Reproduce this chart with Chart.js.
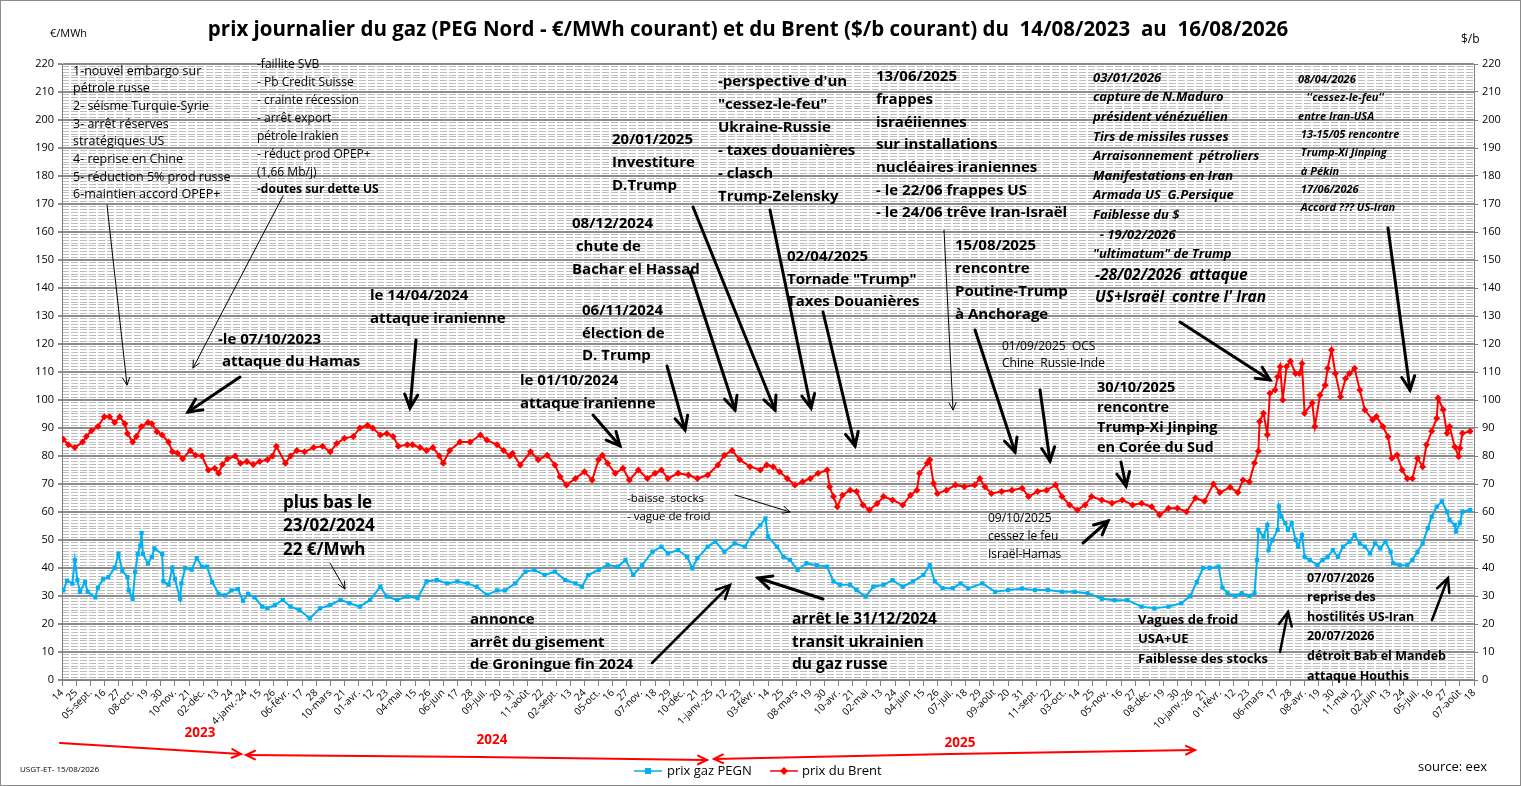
<!DOCTYPE html>
<html>
<head>
<meta charset="utf-8">
<script src="https://cdn.jsdelivr.net/npm/chart.js@4.4.1/dist/chart.umd.min.js"></script>
<style>
  html, body { margin: 0; padding: 0; background: #fff; }
  canvas { display: block; }
</style>
</head>
<body>
<canvas id="chart" width="1521" height="786"></canvas>
<script>
// x = jours depuis le 14/08/2023, libellés tous les 11 jours
const tickLabels = [
  "14","25","05-sept.","16","27","08-oct.","19","30","10-nov.","21",
  "02-déc.","13","24","4-janv.-24","15","26","06-févr.","17","28","10-mars",
  "21","01-avr.","12","23","04-mai","15","26","06-juin","17","28",
  "09-juil.","20","31","11-août","22","02-sept.","13","24","05-oct.","16",
  "27","07-nov.","18","29","10-déc.","21","1-janv.-25","12","23","03-févr.",
  "14","25","08-mars","19","30","10-avr.","21","02-mai","13","24",
  "04-juin","15","26","07-juil.","18","29","09-août","20","31","11-sept.",
  "22","03-oct.","14","25","05-nov.","16","27","08-déc.","19","30",
  "10-janv.-26","21","01-févr.","12","23","06-mars","17","28","08-avr.","19",
  "30","11-mai","22","02-juin","13","24","05-juil.","16","27","07-août",
  "18"
];

// prix du Brent ($/b)
const brentDays = [
  1,5,10,16,19,23,28,33,37,41,
  45,49,51,55,58,62,67,70,74,78,
  83,86,90,94,100,104,109,114,119,122,
  125,129,135,139,144,149,154,160,164,167,
  174,178,183,189,196,203,209,214,220,227,
  232,238,242,248,253,258,262,269,273,279,
  284,289,294,297,302,310,318,326,331,339,
  344,349,351,357,365,371,378,384,388,393,
  400,407,413,418,421,425,431,437,442,449,
  456,462,467,472,480,488,495,503,511,516,
  522,528,536,544,549,554,559,565,571,577,
  583,589,596,598,601,604,608,614,619,624,
  629,635,640,647,655,661,666,668,674,676,
  679,682,689,696,703,711,715,719,724,732,
  740,748,753,760,767,774,779,785,791,797,
  802,810,818,826,834,841,849,855,862,869,
  876,883,890,897,902,910,916,920,925,929,
  932,933,936,939,941,945,947,949,951,954,
  957,961,964,966,968,974,976,980,984,986,
  989,992,996,1000,1003,1007,1011,1015,1021,1024,
  1029,1033,1036,1040,1044,1048,1052,1056,1060,1063,
  1067,1071,1072,1076,1079,1081,1085,1088,1089,1091,1097
];
const brentValues = [
  86,84,83,85,87,89,90.5,94,94,92,
  94,91.5,88,85,87,90.5,92,91.5,88.7,87.5,
  85,81.5,81,79,82,80.3,80,75,75.6,73.8,
  77,79,80,77.4,78,77,78,78.7,80,83.5,
  77.4,80,82,81.5,83,83.5,81.5,84.5,86.3,87,
  90,91,90,87.5,88,87,83.5,84,84,83,
  82,83,80,77.4,82,85,85,87.5,85.7,84,
  82,80,81,76.8,81.5,78.7,80.3,76.8,72.6,69.6,
  72,74.4,71.4,78.7,80.3,77.4,73.8,75.6,71.4,75,
  72,73.8,75,72,73.8,73.2,72,73.2,76.8,80.3,
  82,78.7,76.2,75,76.8,76.2,74.4,72,69.6,70.8,
  72,73.8,75,69,65.5,61.9,66,67.8,67.3,62.5,
  60.7,63,65.5,64.3,62.5,66,67.8,73.8,77.4,78.7,
  70.2,66.6,67.8,69.6,69,69.6,72,69,66.6,67.3,
  67.8,68.5,65.5,67.3,67.8,69.6,65.5,62.5,60.7,62.5,
  65.5,64.3,63.1,64.3,62.5,63.1,61.9,58.9,61.3,61.3,
  60.1,65,63.8,70,67,68.8,67,71.4,70.8,77.5,
  81.7,92.3,95.3,87.6,102.4,103.6,108.3,111.9,100,112,
  113.8,109.5,109.5,113,95.3,98.9,90.5,101.7,105.3,111.3,
  117.9,109.5,101.2,107.7,109.5,111.3,103.6,96.4,92.9,94.1,
  90.5,86.9,79.2,80.4,75,72,72,79.2,76.2,84,
  88.8,93.5,100.7,96.5,88.1,90.5,83.3,79.8,82.8,88.1,88.8
];

// prix gaz PEGN (€/MWh)
const gasDays = [
  1,4,8,10,12,14,18,20,26,28,
  32,36,41,44,47,51,52,55,57,59,
  61,62,63,67,70,72,78,79,83,86,
  88,92,93,96,101,105,109,113,117,122,
  127,132,137,141,145,150,156,160,166,172,
  178,185,193,201,209,217,224,232,240,248,
  253,261,269,277,284,292,300,308,316,323,
  331,339,345,353,361,368,376,384,392,400,
  405,410,418,425,433,439,445,452,460,467,
  472,480,487,491,495,503,509,516,524,532,
  538,544,548,550,557,562,567,573,580,588,
  596,601,606,614,619,626,632,640,647,655,
  663,671,676,680,686,694,700,706,717,727,
  737,748,758,768,779,789,799,810,820,830,
  841,851,862,872,879,884,889,894,901,904,
  908,914,919,925,929,931,932,936,939,940,
  943,947,948,950,953,955,958,961,963,966,
  968,972,978,982,986,990,994,998,1003,1007,
  1011,1015,1019,1023,1027,1031,1035,1037,1042,1048,
  1052,1056,1060,1064,1067,1071,1075,1079,1081,1085,1086,1089,1091,1097
];
const gasValues = [
  32,35.5,34.4,42.8,35.7,31.5,35,31.5,29.5,33,
  36,36.7,40,45,39,36.8,32,29,38.6,45,
  48,52.5,45,41.6,44,47,45,35.2,34,40,
  36,29,34.5,40,39.4,43.5,40.5,40.5,35,30.8,
  30.2,32,32.5,28.3,30.8,29.5,26.2,25.6,26.8,28.6,
  26.2,25,22,25.6,26.8,28.6,27.4,26.2,28.6,33.3,
  29.8,28.6,29.8,29.2,35.2,35.7,34.5,35.2,34.5,33.3,
  30.4,32,32,34.5,38.7,39.3,37.5,38.7,35.7,34.5,
  33.3,37.5,39.3,41.1,40.5,42.9,37.5,41,45.8,47.6,
  45.2,46.4,44,39.9,43.5,47.6,49.4,45.8,48.8,47.6,
  52.4,55.3,57.7,51.2,47.6,44,42.9,39.3,41.7,41,
  40.5,35.2,34,34,32.1,29.8,33.3,34,35.7,33.3,
  35.2,37.5,41,35.2,32.8,32.8,34.5,32.7,34.5,31.5,
  32.1,32.7,32.1,32.1,31.5,31.5,31,29,28.5,28.5,
  26.2,25.6,26.2,27.4,30,35,40,40,40.5,33,
  31,30,31,30,31,42.9,53.6,51.2,55.4,46.4,
  50,53.6,62,58.3,56,53.6,56,50,47.6,51.8,
  44,42.9,41,42.9,44,46.4,44,47.6,49.4,51.8,
  48.8,47.6,45.2,48.8,47,49.4,45.8,41.7,41,41,
  42.9,45.8,48.8,54.2,58.3,61.9,63.8,60.1,57.1,55.4,53,56,60.1,60.7
];

const GAS_COLOR = '#00b0f0';
const BRENT_COLOR = '#ff0000';
const FONT = "'Open Sans', 'Liberation Sans', sans-serif";

// textes d'annotation : x, y (milieu de la 1re ligne), taille, style, interligne
const notes = [
  { x: 73, y: 71, size: 12.5, style: '', lh: 17.7, lines: ["1-nouvel embargo sur", "pétrole russe", "2- séisme Turquie-Syrie", "3- arrêt réserves", "stratégiques US", "4- reprise en Chine", "5- réduction 5% prod russe", "6-maintien accord OPEP+"] },
  { x: 257, y: 65, size: 12, style: '', lh: 17.9, lines: ["-faillite SVB", "- Pb Credit Suisse", "- crainte récession", "- arrêt export", "pétrole Irakien", "- réduct prod OPEP+", "(1,66 Mb/j)"] },
  { x: 257, y: 190, size: 12, style: 'bold', lh: 18, lines: ["-doutes sur dette US"] },
  { x: 218, y: 340, size: 15, style: 'bold', lh: 22, lines: ["-le 07/10/2023", " attaque du Hamas"] },
  { x: 370, y: 296, size: 15, style: 'bold', lh: 23, lines: ["le 14/04/2024", "attaque iranienne"] },
  { x: 283, y: 503, size: 17, style: 'bold', lh: 23.5, lines: ["plus bas le", "23/02/2024", "22 €/Mwh"] },
  { x: 470, y: 620, size: 15, style: 'bold', lh: 22.5, lines: ["annonce", "arrêt du gisement", "de Groningue fin 2024"] },
  { x: 520, y: 381, size: 15, style: 'bold', lh: 23, lines: ["le 01/10/2024", "attaque iranienne"] },
  { x: 582, y: 311, size: 15, style: 'bold', lh: 22.5, lines: ["06/11/2024", "élection de", "D. Trump"] },
  { x: 572, y: 224, size: 15, style: 'bold', lh: 23, lines: ["08/12/2024", " chute de", "Bachar el Hassad"] },
  { x: 612, y: 140, size: 15, style: 'bold', lh: 23, lines: ["20/01/2025", "Investiture", "D.Trump"] },
  { x: 718, y: 82, size: 15, style: 'bold', lh: 23, lines: ["-perspective d'un", "\"cessez-le-feu\"", "Ukraine-Russie", "- taxes douanières", "- clasch", "Trump-Zelensky"] },
  { x: 876, y: 77, size: 15, style: 'bold', lh: 22.7, lines: ["13/06/2025", "frappes", "israéiiennes", "sur installations", "nucléaires iraniennes", "- le 22/06 frappes US", "- le 24/06 trêve Iran-Israël"] },
  { x: 787, y: 257, size: 15, style: 'bold', lh: 22.5, lines: ["02/04/2025", "Tornade \"Trump\"", "Taxes Douanières"] },
  { x: 955, y: 246, size: 15, style: 'bold', lh: 23, lines: ["15/08/2025", "rencontre", "Poutine-Trump", "à Anchorage"] },
  { x: 1002, y: 347, size: 12, style: '', lh: 17, lines: ["01/09/2025  OCS", "Chine  Russie-Inde"] },
  { x: 1097, y: 388, size: 14.5, style: 'bold', lh: 20, lines: ["30/10/2025", "rencontre", "Trump-Xi Jinping", "en Corée du Sud"] },
  { x: 988, y: 519, size: 12, style: '', lh: 18, lines: ["09/10/2025", "cessez le feu", "Israël-Hamas"] },
  { x: 1093, y: 78, size: 13, style: 'italic bold', lh: 19.6, lines: ["03/01/2026", "capture de N.Maduro", "président vénézuélien", "Tirs de missiles russes", "Arraisonnement  pétroliers", "Manifestations en Iran", "Armada US  G.Persique", "Faiblesse du $", "  - 19/02/2026", "\"ultimatum\" de Trump"] },
  { x: 1095, y: 276, size: 15.5, style: 'italic bold', lh: 22, lines: ["-28/02/2026  attaque", "US+Israël  contre l' Iran"] },
  { x: 1298, y: 80, size: 11, style: 'italic bold', lh: 18.3, lines: ["08/04/2026", "   ''cessez-le-feu''", "entre Iran-USA", " 13-15/05 rencontre", " Trump-Xi Jinping", " à Pékin", " 17/06/2026", " Accord ??? US-Iran"] },
  { x: 627, y: 499, size: 11.5, style: '', lh: 18, lines: ["-baisse  stocks", "- vague de froid"] },
  { x: 792, y: 620, size: 15.5, style: 'bold', lh: 22.5, lines: ["arrêt le 31/12/2024", "transit ukrainien", "du gaz russe"] },
  { x: 1138, y: 620, size: 13, style: 'bold', lh: 19.5, lines: ["Vagues de froid", "USA+UE", "Faiblesse des stocks"] },
  { x: 1307, y: 578, size: 12.5, style: 'bold', lh: 19.6, lines: ["07/07/2026", "reprise des", "hostilités US-Iran", "20/07/2026", "détroit Bab el Mandeb", "attaque Houthis"] }
];

// flèches : x1, y1, x2, y2 (pointe), épaisseur
const arrows = [
  [107, 205, 127, 385, 1], [283, 196, 193, 368, 1], [330, 563, 345, 589, 1],
  [735, 495, 790, 512, 1], [944, 230, 953, 410, 1],
  [240, 377, 188, 412, 3], [416, 340, 410, 408, 3], [593, 415, 620, 446, 3],
  [667, 366, 685, 430, 3], [690, 272, 735, 410, 3], [693, 207, 775, 410, 3],
  [770, 210, 811, 408, 3], [823, 312, 855, 446, 3], [975, 330, 1015, 452, 3],
  [1040, 390, 1050, 461, 3], [1121, 462, 1126, 486, 3], [1083, 543, 1108, 521, 3],
  [1180, 322, 1270, 380, 3], [1388, 228, 1410, 390, 3], [652, 663, 730, 585, 2.5],
  [823, 599, 758, 578, 3], [1280, 652, 1288, 612, 2.5], [1432, 620, 1448, 578, 2.5]
];

function drawArrow(ctx, x1, y1, x2, y2, w, color, head) {
  const a = Math.atan2(y2 - y1, x2 - x1);
  ctx.save();
  ctx.strokeStyle = color;
  ctx.lineWidth = w;
  ctx.lineCap = 'round';
  ctx.beginPath();
  ctx.moveTo(x1, y1);
  ctx.lineTo(x2, y2);
  ctx.stroke();
  ctx.beginPath();
  ctx.moveTo(x2 - head * Math.cos(a - 0.45), y2 - head * Math.sin(a - 0.45));
  ctx.lineTo(x2, y2);
  ctx.lineTo(x2 - head * Math.cos(a + 0.45), y2 - head * Math.sin(a + 0.45));
  ctx.stroke();
  ctx.restore();
}

const decorPlugin = {
  id: 'decor',
  beforeDraw(chart) {
    const ctx = chart.ctx;
    ctx.save();
    ctx.fillStyle = '#fff';
    ctx.fillRect(0, 0, chart.width, chart.height);
    ctx.restore();
  },
  afterDraw(chart) {
    const ctx = chart.ctx;
    ctx.save();
    ctx.fillStyle = '#000';
    ctx.textBaseline = 'middle';

    // titre
    ctx.font = 'bold 20.5px ' + FONT;
    ctx.textAlign = 'center';
    ctx.fillText('prix journalier du gaz (PEG Nord - €/MWh courant) et du Brent ($/b courant) du  14/08/2023  au  16/08/2026', 748, 30);
    ctx.textAlign = 'left';
    ctx.font = '11px ' + FONT;
    ctx.fillText('€/MWh', 50, 34);
    ctx.font = '12px ' + FONT;
    ctx.fillText('$/b', 1461, 40);

    // annotations
    notes.forEach(n => {
      ctx.font = (n.style ? n.style + ' ' : '') + n.size + 'px ' + FONT;
      n.lines.forEach((t, i) => ctx.fillText(t, n.x, n.y + i * n.lh));
    });
    arrows.forEach(a => drawArrow(ctx, a[0], a[1], a[2], a[3], a[4], '#000', a[4] > 2 ? 15 : 8));

    // années
    ctx.fillStyle = '#ff0000';
    ctx.font = 'bold 13.5px ' + FONT;
    ctx.textAlign = 'center';
    ctx.fillText('2023', 200, 733);
    ctx.fillText('2024', 492, 740);
    ctx.fillText('2025', 960, 743);
    drawArrow(ctx, 60, 743, 241, 754, 2, '#ff0000', 10);
    drawArrow(ctx, 480, 757, 246, 755, 2, '#ff0000', 10);
    drawArrow(ctx, 480, 757, 707, 760, 2, '#ff0000', 10);
    drawArrow(ctx, 950, 754, 714, 759, 2, '#ff0000', 10);
    drawArrow(ctx, 950, 754, 1195, 750, 2, '#ff0000', 10);

    // légende
    ctx.textAlign = 'left';
    ctx.font = '13px ' + FONT;
    ctx.strokeStyle = GAS_COLOR;
    ctx.lineWidth = 1.5;
    ctx.beginPath(); ctx.moveTo(634, 771); ctx.lineTo(662, 771); ctx.stroke();
    ctx.fillStyle = GAS_COLOR;
    ctx.fillRect(645, 768, 6, 6);
    ctx.fillStyle = '#000';
    ctx.fillText('prix gaz PEGN', 667, 771);
    ctx.strokeStyle = BRENT_COLOR;
    ctx.beginPath(); ctx.moveTo(770, 771); ctx.lineTo(798, 771); ctx.stroke();
    ctx.fillStyle = BRENT_COLOR;
    ctx.beginPath();
    ctx.moveTo(784, 767); ctx.lineTo(788, 771); ctx.lineTo(784, 775); ctx.lineTo(780, 771);
    ctx.closePath(); ctx.fill();
    ctx.fillStyle = '#000';
    ctx.fillText('prix du Brent', 802, 771);

    ctx.font = '8px ' + FONT;
    ctx.fillText('USGT-ET- 15/08/2026', 20, 770);
    ctx.font = '13px ' + FONT;
    ctx.fillText('source: eex', 1418, 767);

    // cadre
    ctx.strokeStyle = '#8c8c8c';
    ctx.lineWidth = 1;
    ctx.strokeRect(0.5, 0.5, chart.width - 1, chart.height - 1);
    ctx.restore();
  }
};

const gasData = gasDays.map((d, i) => ({ x: d, y: gasValues[i] }));
const brentData = brentDays.map((d, i) => ({ x: d, y: brentValues[i] }));

Chart.defaults.font.family = FONT;
Chart.defaults.color = '#000';

new Chart(document.getElementById('chart'), {
  type: 'line',
  data: {
    datasets: [
      {
        label: 'prix gaz PEGN',
        data: gasData,
        yAxisID: 'y',
        borderColor: GAS_COLOR,
        backgroundColor: GAS_COLOR,
        borderWidth: 2,
        pointStyle: 'rect',
        pointRadius: 3,
        pointBorderWidth: 0,
        tension: 0
      },
      {
        label: 'prix du Brent',
        data: brentData,
        yAxisID: 'y2',
        borderColor: BRENT_COLOR,
        backgroundColor: BRENT_COLOR,
        borderWidth: 2,
        pointStyle: 'rectRot',
        pointRadius: 3.5,
        pointBorderWidth: 0,
        tension: 0
      }
    ]
  },
  options: {
    responsive: false,
    animation: false,
    layout: { padding: { top: 64, left: 0, right: 0, bottom: 0 } },
    plugins: {
      legend: { display: false },
      tooltip: { enabled: false }
    },
    scales: {
      x: {
        type: 'linear',
        min: 0,
        max: 1100,
        ticks: {
          stepSize: 11,
          autoSkip: false,
          maxRotation: 45,
          minRotation: 45,
          padding: 1,
          font: { size: 10 },
          callback: v => tickLabels[Math.round(v / 11)]
        },
        grid: { drawOnChartArea: false, color: '#808080', tickLength: 6 },
        border: { color: '#808080' },
        afterFit: s => { s.height = 106; }
      },
      ym: {
        position: 'left',
        min: 0,
        max: 220,
        z: -1,
        ticks: { display: false, stepSize: 1 },
        grid: { color: '#bdbdbd', lineWidth: 1, drawTicks: false },
        border: { display: false, dash: [7, 2] },
        afterFit: s => { s.width = 0; }
      },
      y: {
        position: 'left',
        min: 0,
        max: 220,
        ticks: { stepSize: 10, font: { size: 11 }, padding: 4 },
        grid: { color: '#8c8c8c', lineWidth: 2, tickLength: 4 },
        border: { color: '#808080' },
        afterFit: s => { s.width = 62; }
      },
      y2: {
        position: 'right',
        min: 0,
        max: 220,
        ticks: { stepSize: 10, font: { size: 11 }, padding: 4 },
        grid: { drawOnChartArea: false, color: '#808080', tickLength: 4 },
        border: { color: '#808080' },
        afterFit: s => { s.width = 47; }
      }
    }
  },
  plugins: [decorPlugin]
});
</script>
</body>
</html>
